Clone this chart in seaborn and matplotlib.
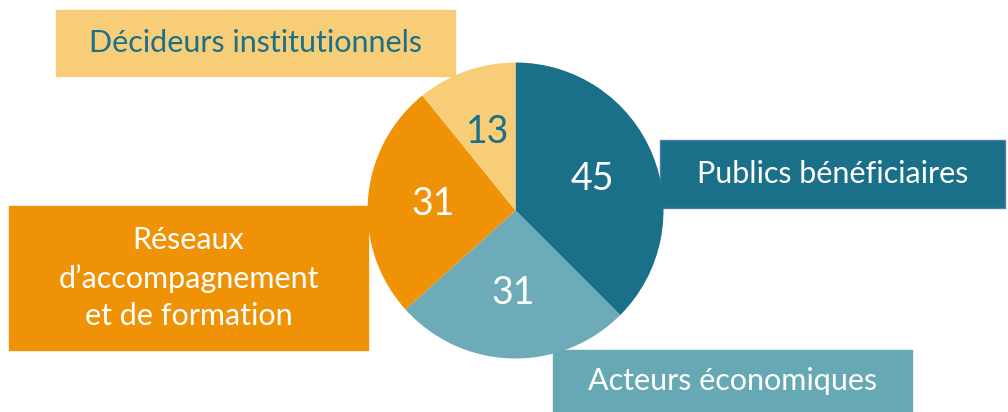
import numpy as np
import matplotlib.pyplot as plt
import seaborn as sns
from matplotlib.patches import Rectangle

sns.set_theme(style="white")
plt.rcParams['font.family'] = ['Lato', 'DejaVu Sans']

# data: clockwise from the top
categories = ['Publics bénéficiaires', 'Acteurs économiques',
              "Réseaux\nd\u2019accompagnement\net de formation", 'Décideurs institutionnels']
values = [45, 31, 31, 13]

wedge_colors = ['#1a7089', '#6eabb8', '#f09205', '#f8cd78']
value_colors = ['white', 'white', 'white', '#1a7089']
box_colors = ['#1a7089', '#66a9b5', '#f09205', '#f8cd78']
box_text_colors = ['white', 'white', 'white', '#1a7089']
# boxes in pixel space (x0, y0 from top, width, height)
boxes = [(660, 140, 345, 68), (553, 350, 359, 62), (9, 206, 359, 144), (56, 10, 399, 66)]

W, H = 1008, 412
fig = plt.figure(figsize=(W / 100, H / 100), dpi=100)
ax = fig.add_axes([0, 0, 1, 1])
ax.set_xlim(0, W)
ax.set_ylim(0, H)
ax.set_aspect('equal')
ax.axis('off')

wedges, texts, autotexts = ax.pie(
    values, colors=wedge_colors, startangle=90, counterclock=False,
    center=(515.5, H - 210.5), radius=148, frame=True,
    autopct=lambda p: '%d' % round(p * sum(values) / 100), pctdistance=0.56,
    wedgeprops=dict(linewidth=0))
for t, c in zip(autotexts, value_colors):
    t.set_color(c)
    t.set_fontsize(27)
ax.set_xlim(0, W)
ax.set_ylim(0, H)
ax.axis('off')

for cat, (x0, y0, w, h), bc, tc in zip(categories, boxes, box_colors, box_text_colors):
    ec = '#4f7fa8' if cat.startswith('Publics') else bc
    ax.add_patch(Rectangle((x0, H - y0 - h), w, h, facecolor=bc, edgecolor=ec, lw=1, zorder=0.5))
    ax.text(x0 + w / 2, H - y0 - h / 2, cat, ha='center', va='center',
            color=tc, fontsize=22, linespacing=1.4)

fig.savefig('out.png', dpi=100)
